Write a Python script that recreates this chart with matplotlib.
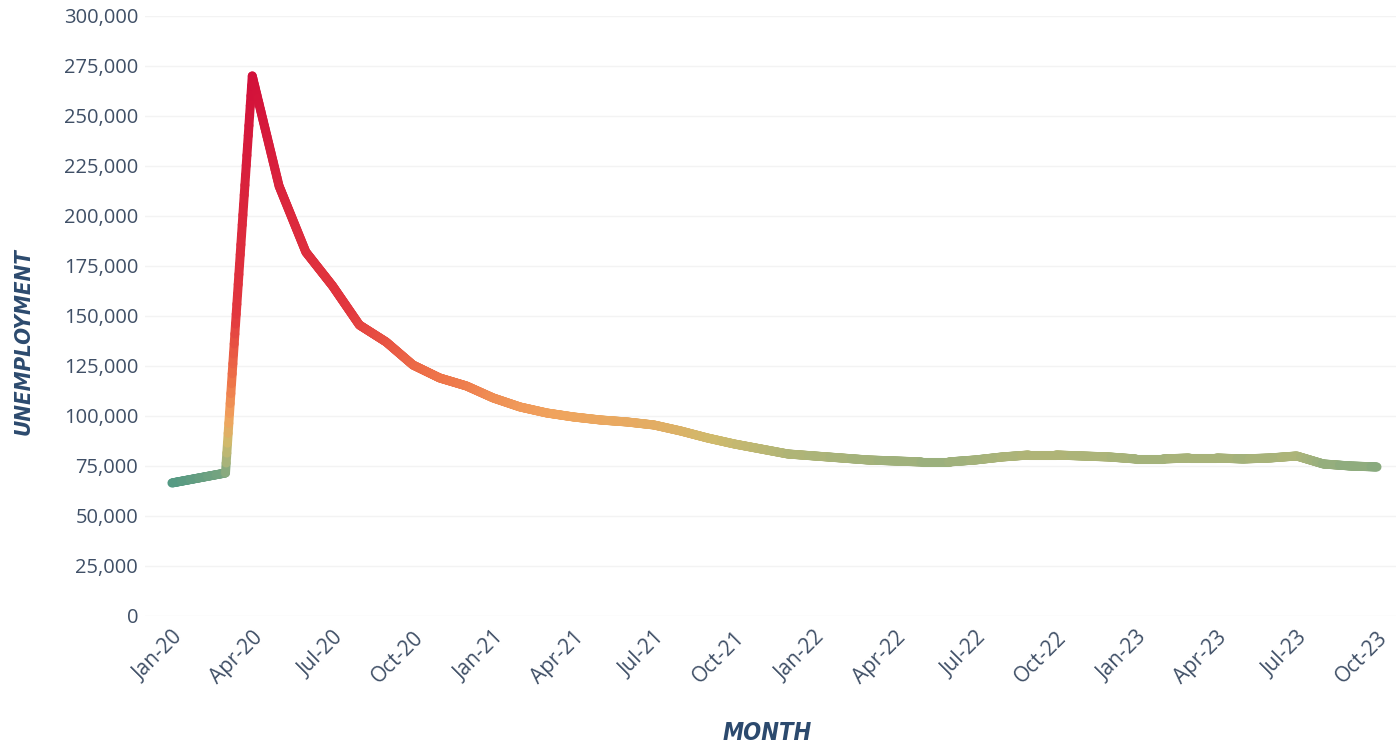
import numpy as np
import matplotlib.pyplot as plt
from matplotlib.collections import LineCollection
from matplotlib.colors import LinearSegmentedColormap, Normalize

months = ["Jan-20", "Feb-20", "Mar-20", "Apr-20", "May-20", "Jun-20", "Jul-20", "Aug-20",
          "Sep-20", "Oct-20", "Nov-20", "Dec-20", "Jan-21", "Feb-21", "Mar-21", "Apr-21",
          "May-21", "Jun-21", "Jul-21", "Aug-21", "Sep-21", "Oct-21", "Nov-21", "Dec-21",
          "Jan-22", "Feb-22", "Mar-22", "Apr-22", "May-22", "Jun-22", "Jul-22", "Aug-22",
          "Sep-22", "Oct-22", "Nov-22", "Dec-22", "Jan-23", "Feb-23", "Mar-23", "Apr-23",
          "May-23", "Jun-23", "Jul-23", "Aug-23", "Sep-23", "Oct-23"]
unemployment = [66500, 69000, 71500, 270000, 215000, 182000, 165000, 145500,
                137000, 125500, 119000, 115000, 109000, 104500, 101500, 99500,
                98000, 97000, 95500, 92500, 89000, 86000, 83500, 81000,
                80000, 79000, 78000, 77500, 77000, 77000, 78000, 79500,
                80500, 80500, 80000, 79500, 78500, 78500, 79000, 79000,
                78500, 79000, 80000, 76000, 75000, 74500]
tick_every = 3

# colour follows the value: green (low) -> khaki -> orange -> red (high)
cmap = LinearSegmentedColormap.from_list("unemp", [
    (0.00, "#4a9684"),
    (0.06, "#a2b27c"),
    (0.11, "#cfba6c"),
    (0.17, "#f0a45e"),
    (0.26, "#ee7449"),
    (0.42, "#e2383e"),
    (1.00, "#d2103a"),
])
norm = Normalize(vmin=65000, vmax=270000)

fig = plt.figure(figsize=(13.97, 7.5), dpi=100)
ax = fig.add_axes([0.1039, 0.1787, 0.8952, 0.8])

x = np.arange(len(unemployment))
y = np.array(unemployment, dtype=float)

# split each segment into short pieces so the gradient runs along the line
segs = []
vals = []
for i in range(len(x) - 1):
    n = 40
    xs = np.linspace(x[i], x[i + 1], n + 1)
    ys = np.linspace(y[i], y[i + 1], n + 1)
    for k in range(n):
        segs.append([(xs[k], ys[k]), (xs[k + 1], ys[k + 1])])
        vals.append((ys[k] + ys[k + 1]) / 2)
lc = LineCollection(segs, colors=cmap(norm(np.array(vals))), linewidths=6.5,
                    capstyle="round", joinstyle="round")
ax.add_collection(lc)

ax.set_xlim(-1, 45.7)
ax.set_ylim(0, 300000)
ax.set_yticks(np.arange(0, 300001, 25000))
ax.yaxis.set_major_formatter(plt.FuncFormatter(lambda v, p: f"{int(v):,}"))
ax.set_xticks(x[::tick_every])
ax.set_xticklabels(months[::tick_every], rotation=45, ha="right", rotation_mode="anchor")

ax.grid(axis="y", color="#f3f3f3", linewidth=1)
ax.set_axisbelow(True)
for s in ax.spines.values():
    s.set_visible(False)
ax.tick_params(length=0, labelcolor="#3f4f66")
ax.tick_params(axis="y", pad=5, labelsize=14.5)
ax.tick_params(axis="x", pad=8, labelsize=15)
for lab in ax.get_xticklabels() + ax.get_yticklabels():
    lab.set_fontfamily("Open Sans")

title_font = dict(family="DejaVu Sans", stretch="condensed", weight="bold",
                  style="italic", color="#2c4a6e")
fig.text(0.017, 0.544, "UNEMPLOYMENT", rotation=90, ha="center", va="center",
         size=16, **title_font)
fig.text(0.549, 0.022, "MONTH", ha="center", va="center", size=17, **title_font)

fig.savefig("out.png", dpi=100, facecolor="white")
